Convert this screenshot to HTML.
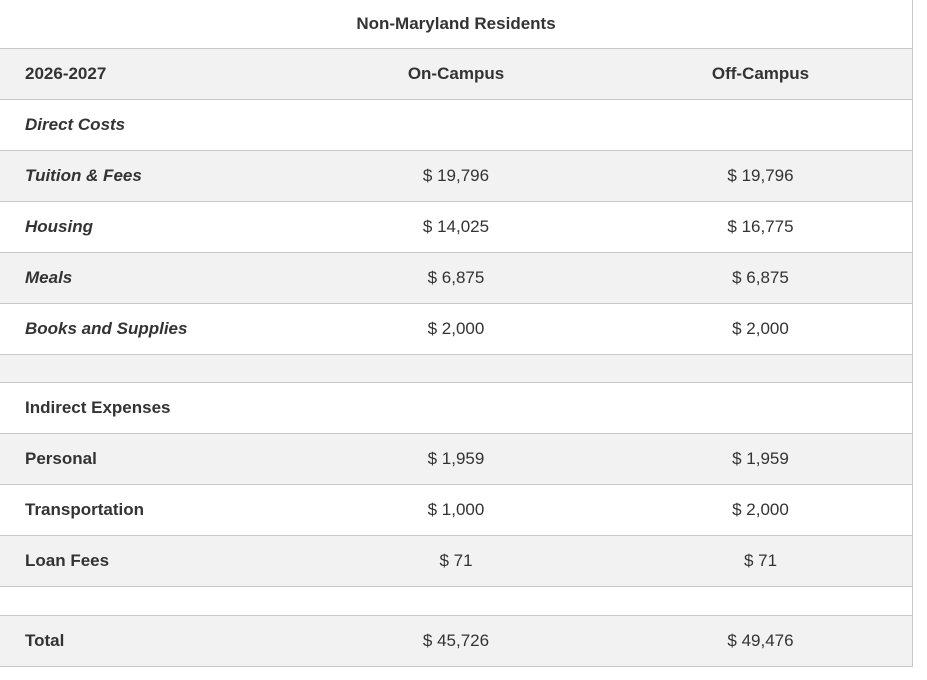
<!DOCTYPE html>
<html><head><style>
body{margin:0;width:927px;height:680px;background:#fff;position:relative;font-family:"Liberation Sans",sans-serif;color:#333;overflow:hidden}
.r{position:absolute;left:0;width:913px;border-bottom:1px solid #c8c8c8;box-sizing:border-box}
.g{background:#f2f2f2}
.c{position:absolute;top:0;bottom:0;display:flex;align-items:center;font-size:17px}
.c1{left:25px}
.c2{left:304px;width:304px;justify-content:center}
.c3{left:608px;width:305px;justify-content:center}
.b{font-weight:bold}
.i{font-style:italic;font-weight:bold}
.vb{position:absolute;left:912px;top:0;width:1px;height:666px;background:#c8c8c8}
</style></head><body>
<div class="r" style="top:0;height:49px"><div class="c c2 b">Non-Maryland Residents</div></div>
<div class="r g" style="top:49px;height:51px"><div class="c c1 b">2026-2027</div><div class="c c2 b">On-Campus</div><div class="c c3 b">Off-Campus</div></div>
<div class="r" style="top:100px;height:51px"><div class="c c1 i">Direct Costs</div></div>
<div class="r g" style="top:151px;height:51px"><div class="c c1 i">Tuition &amp; Fees</div><div class="c c2">$ 19,796</div><div class="c c3">$ 19,796</div></div>
<div class="r" style="top:202px;height:51px"><div class="c c1 i">Housing</div><div class="c c2">$ 14,025</div><div class="c c3">$ 16,775</div></div>
<div class="r g" style="top:253px;height:51px"><div class="c c1 i">Meals</div><div class="c c2">$ 6,875</div><div class="c c3">$ 6,875</div></div>
<div class="r" style="top:304px;height:51px"><div class="c c1 i">Books and Supplies</div><div class="c c2">$ 2,000</div><div class="c c3">$ 2,000</div></div>
<div class="r g" style="top:355px;height:28px"></div>
<div class="r" style="top:383px;height:51px"><div class="c c1 b">Indirect Expenses</div></div>
<div class="r g" style="top:434px;height:51px"><div class="c c1 b">Personal</div><div class="c c2">$ 1,959</div><div class="c c3">$ 1,959</div></div>
<div class="r" style="top:485px;height:51px"><div class="c c1 b">Transportation</div><div class="c c2">$ 1,000</div><div class="c c3">$ 2,000</div></div>
<div class="r g" style="top:536px;height:51px"><div class="c c1 b">Loan Fees</div><div class="c c2">$ 71</div><div class="c c3">$ 71</div></div>
<div class="r" style="top:587px;height:29px"></div>
<div class="r g" style="top:616px;height:51px"><div class="c c1 b">Total</div><div class="c c2">$ 45,726</div><div class="c c3">$ 49,476</div></div>
<div class="vb"></div>
</body></html>
